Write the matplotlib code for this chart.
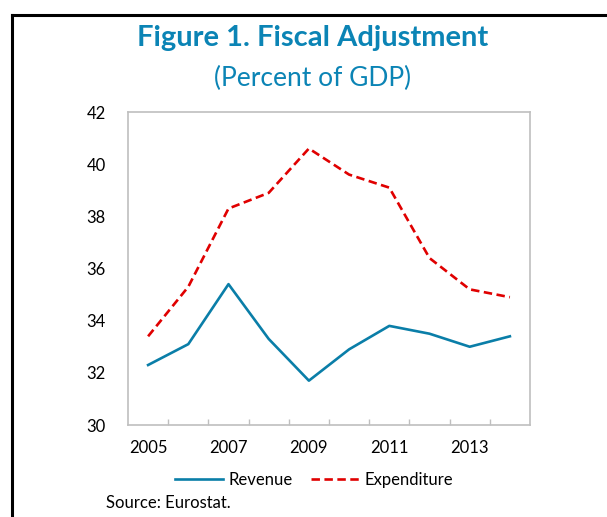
import numpy as np
import matplotlib
matplotlib.use('Agg')
import matplotlib.pyplot as plt
from matplotlib.lines import Line2D

plt.rcParams['font.family'] = ['Lato', 'DejaVu Sans']

years = [2005, 2006, 2007, 2008, 2009, 2010, 2011, 2012, 2013, 2014]
revenue = [32.3, 33.1, 35.4, 33.3, 31.7, 32.9, 33.8, 33.5, 33.0, 33.4]
expenditure = [33.4, 35.3, 38.3, 38.9, 40.6, 39.6, 39.1, 36.4, 35.2, 34.9]
yticks = [30, 32, 34, 36, 38, 40, 42]

teal = '#0b84b5'
line_blue = '#0a7ea8'

fig = plt.figure(figsize=(6.07, 5.17), dpi=100)
ax = fig.add_axes([128 / 607, 1 - 425 / 517, 402 / 607, 313 / 517])

x = np.arange(len(years))
ax.plot(x, revenue, color=line_blue, lw=1.9, label='Revenue')
ax.plot(x, expenditure, color='#e00000', lw=1.9, ls=(0, (3.2, 1.7)), label='Expenditure')

ax.set_xlim(-0.5, len(years) - 0.5)
ax.set_ylim(30, 42)
ax.set_yticks(yticks)
ax.set_yticklabels([str(v) for v in yticks])
ax.set_xticks(x[::2])
ax.set_xticklabels([str(y) for y in years[::2]])
ax.set_xticks(x[:-1] + 0.5, minor=True)
ax.tick_params(axis='both', which='major', length=0, labelsize=12, colors='black')
ax.tick_params(axis='y', pad=16)
ax.tick_params(axis='x', pad=11)
ax.tick_params(axis='x', which='minor', direction='in', length=4, color='#bfbfbf', width=1)
for s in ax.spines.values():
    s.set_color('#bfbfbf')
    s.set_linewidth(1.2)

fig.text(313 / 607, 1 - 38 / 517, 'Figure 1. Fiscal Adjustment', ha='center', va='center',
         fontsize=21, fontweight='bold', color=teal)
fig.text(313 / 607, 1 - 78 / 517, '(Percent of GDP)', ha='center', va='center',
         fontsize=19, color=teal)

fig.legend(loc='center', bbox_to_anchor=(314 / 607, 1 - 480 / 517), ncol=2, frameon=False,
           fontsize=12, handlelength=2.9, handletextpad=0.3, columnspacing=1.1)
fig.text(106 / 607, 1 - 503 / 517, 'Source: Eurostat.', ha='left', va='center', fontsize=12)

# frame around the figure (left and top edges only visible)
fig.add_artist(Line2D([12 / 607, 12 / 607], [0, 1 - 15 / 517], color='black', lw=2.2,
                      transform=fig.transFigure))
fig.add_artist(Line2D([12 / 607, 1], [1 - 15 / 517, 1 - 15 / 517], color='black', lw=2.2,
                      transform=fig.transFigure))

fig.savefig('out.png', dpi=100)
